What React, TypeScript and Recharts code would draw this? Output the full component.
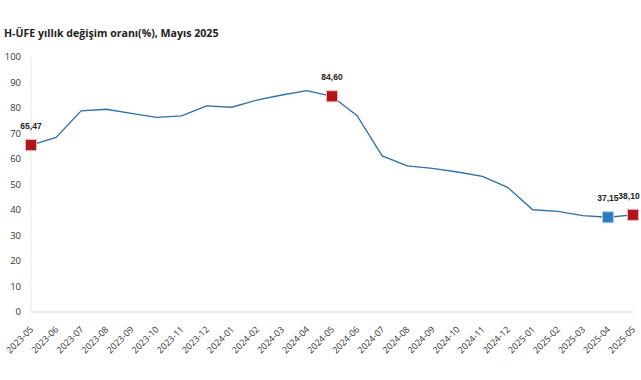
import React from 'react';
import { LineChart, Line, XAxis, YAxis } from 'recharts';

const months = [
  '2023-05', '2023-06', '2023-07', '2023-08', '2023-09', '2023-10', '2023-11', '2023-12',
  '2024-01', '2024-02', '2024-03', '2024-04', '2024-05', '2024-06', '2024-07', '2024-08',
  '2024-09', '2024-10', '2024-11', '2024-12', '2025-01', '2025-02', '2025-03', '2025-04', '2025-05',
];
const values = [
  65.47, 68.5, 78.9, 79.5, 77.9, 76.3, 76.9, 80.8,
  80.3, 83.1, 85.1, 86.8, 84.6, 77.0, 61.2, 57.3,
  56.3, 54.9, 53.2, 48.9, 40.1, 39.5, 37.8, 37.15, 38.1,
];
const redMarks = ['2023-05', '2024-05', '2025-05'];
const blueMarks = ['2025-04'];
const yTicks = [0, 10, 20, 30, 40, 50, 60, 70, 80, 90, 100];

const data = months.map((m, i) => ({ month: m, value: values[i] }));

const fmt = (v: number) => v.toFixed(2).replace('.', ',');

const CHART_W = 641;

const MarkerDot = (props: any) => {
  const { cx, cy, payload, index } = props;
  const isRed = redMarks.includes(payload.month);
  const isBlue = blueMarks.includes(payload.month);
  if (!isRed && !isBlue) return <g key={`d-${index}`} />;
  const fill = isRed ? '#B0141C' : '#2E78BD';
  const stroke = isRed ? '#F2B3B3' : '#A9CDEB';
  // keep the label inside the picture at the right edge
  const lx = Math.min(cx, CHART_W - 12);
  return (
    <g key={`d-${index}`}>
      <rect x={cx - 5.5} y={cy - 5.5} width={11} height={11} fill={fill} stroke={stroke} strokeWidth={1} />
      <text
        x={lx}
        y={cy - 16}
        textAnchor="middle"
        fontSize={8.5}
        fontWeight="bold"
        fontFamily="'Liberation Sans', Arial, sans-serif"
        fill="#222"
      >
        {fmt(payload.value)}
      </text>
    </g>
  );
};

const MonthTick = (props: any) => {
  const { x, y, payload } = props;
  return (
    <g transform={`translate(${x + 3},${y + 10})`}>
      <text
        x={0}
        y={0}
        textAnchor="end"
        transform="rotate(-45)"
        fontSize={9}
        fontFamily="'Open Sans', sans-serif"
        fill="#333"
      >
        {payload.value}
      </text>
    </g>
  );
};

export default function App() {
  return (
    <div style={{ position: 'absolute', left: 0, top: 0, width: 641, height: 380, background: '#fff' }}>
      <div
        style={{
          position: 'absolute',
          left: 4,
          top: 26,
          fontFamily: "'Open Sans', sans-serif",
          fontWeight: 700,
          fontSize: 10.6,
          color: '#222',
          whiteSpace: 'nowrap',
        }}
      >
        H-ÜFE yıllık değişim oranı(%), Mayıs 2025
      </div>
      <LineChart
        width={CHART_W}
        height={380}
        data={data}
        margin={{ top: 57, right: 8, bottom: 18, left: 7 }}
        style={{ position: 'absolute', left: 0, top: 0 }}
      >
        <XAxis
          dataKey="month"
          interval={0}
          height={50}
          tick={<MonthTick />}
          tickLine={false}
          axisLine={{ stroke: '#D9D9D9' }}
        />
        <YAxis
          domain={[0, 100]}
          ticks={yTicks}
          width={24}
          tickLine={false}
          axisLine={{ stroke: '#E6E6E6' }}
          tick={{ fontSize: 9.5, fill: '#333', fontFamily: "'Open Sans', sans-serif" }}
          tickMargin={4}
        />
        <Line
          type="linear"
          dataKey="value"
          stroke="#2F6EA6"
          strokeWidth={1.3}
          dot={<MarkerDot />}
          activeDot={false}
          isAnimationActive={false}
        />
      </LineChart>
    </div>
  );
}
